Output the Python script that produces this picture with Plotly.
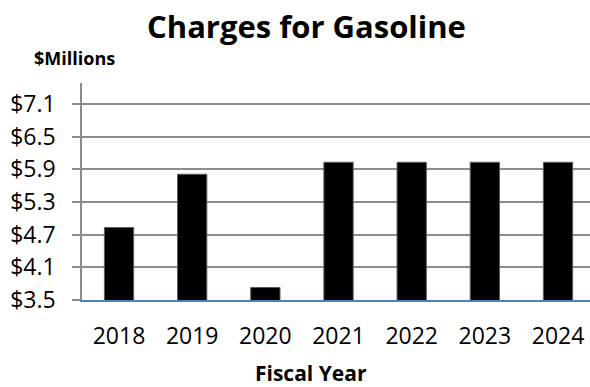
import plotly.graph_objects as go

# Annual gasoline charges, in millions of dollars
fiscal_years = ["2018", "2019", "2020", "2021", "2022", "2023", "2024"]
charges_millions = [4.83, 5.81, 3.73, 6.03, 6.03, 6.03, 6.03]
tick_values = [3.5, 4.1, 4.7, 5.3, 5.9, 6.5, 7.1]
tick_labels = ["$3.5", "$4.1", "$4.7", "$5.3", "$5.9", "$6.5", "$7.1"]

FONT = "Open Sans"

fig = go.Figure(
    go.Bar(
        x=list(range(len(fiscal_years))),
        y=charges_millions,
        width=0.4,
        marker=dict(color="#000000", line=dict(color="#5a5a5a", width=1)),
        hoverinfo="skip",
    )
)

fig.update_layout(
    width=590,
    height=387,
    margin=dict(l=82, r=0, t=83, b=87),
    paper_bgcolor="white",
    plot_bgcolor="white",
    showlegend=False,
    font=dict(family=FONT, color="#000000"),
    xaxis=dict(
        range=[-0.506, 6.437],
        tickmode="array",
        tickvals=list(range(len(fiscal_years))),
        ticktext=fiscal_years,
        tickfont=dict(size=23, family=FONT, color="#000000"),
        ticks="",
        ticklabelstandoff=14,
        showgrid=False,
        zeroline=False,
        showline=True,
        linecolor="#4f81bd",
        linewidth=2,
    ),
    yaxis=dict(
        range=[3.5, 7.486],
        tickmode="array",
        tickvals=tick_values,
        ticktext=tick_labels,
        tickfont=dict(size=23, family=FONT, color="#000000"),
        ticks="outside",
        ticklen=8,
        tickcolor="#8c8c8c",
        tickwidth=1.5,
        ticklabelstandoff=12,
        showgrid=True,
        gridcolor="#8c8c8c",
        gridwidth=1.8,
        zeroline=False,
        showline=True,
        linecolor="#8c8c8c",
        linewidth=1.5,
    ),
    annotations=[
        dict(
            text="<b>Charges for Gasoline</b>",
            xref="paper", yref="paper",
            x=(306.7 - 82) / 508, y=(387 - 87 - 26) / 217,
            xanchor="center", yanchor="middle",
            showarrow=False,
            font=dict(size=31, family=FONT, color="#000000"),
        ),
        dict(
            text="<b>$Millions</b>",
            xref="paper", yref="paper",
            x=(74 - 82) / 508, y=(387 - 87 - 58) / 217,
            xanchor="center", yanchor="middle",
            showarrow=False,
            font=dict(size=18, family=FONT, color="#000000"),
        ),
        dict(
            text="<b>Fiscal Year</b>",
            xref="paper", yref="paper",
            x=(310.5 - 82) / 508, y=(387 - 87 - 373) / 217,
            xanchor="center", yanchor="middle",
            showarrow=False,
            font=dict(size=21, family=FONT, color="#000000"),
        ),
    ],
)

fig.write_html("out.html")
